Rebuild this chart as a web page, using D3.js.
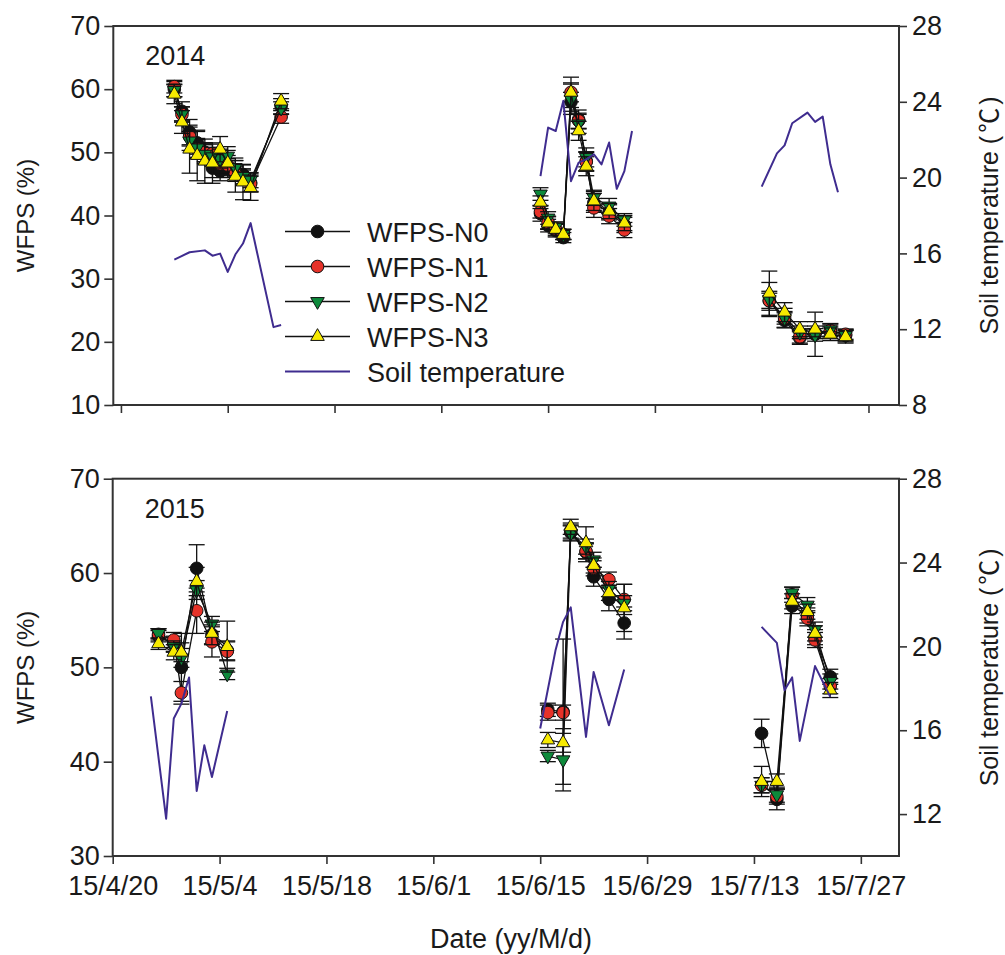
<!DOCTYPE html>
<html>
<head>
<meta charset="utf-8">
<script src="https://cdn.jsdelivr.net/npm/d3@7"></script>
<style>
  body { margin: 0; background: #fff; }
  svg text { font-family: "Liberation Sans", Arial, sans-serif; fill: #1a1a1a; }
</style>
</head>
<body>
<svg id="chart" width="1005" height="955"></svg>
<script>
// ---------- 2014 measurements ----------
const dates2014 = ["2014-04-27","2014-04-28","2014-04-29","2014-04-30","2014-05-01","2014-05-02","2014-05-03","2014-05-04","2014-05-05","2014-05-06","2014-05-07","2014-05-11",
  "2014-06-14","2014-06-15","2014-06-16","2014-06-17","2014-06-18","2014-06-19","2014-06-20","2014-06-21","2014-06-23","2014-06-25",
  "2014-07-14","2014-07-16","2014-07-18","2014-07-20","2014-07-22","2014-07-24"];
const n0_2014 = [60.0,56.5,53.2,51.5,50.0,47.5,47.0,47.5,47.2,46.5,45.2,57.3, 40.3,38.4,37.6,36.5,58.0,55.2,48.6,42.0,40.5,38.5, 26.5,23.4,20.6,21.2,21.5,21.0];
const n1_2014 = [60.4,56.0,52.5,50.5,50.0,49.8,48.2,48.0,46.6,46.0,45.0,55.6, 40.6,38.9,37.9,37.0,59.5,55.0,48.5,41.2,39.9,37.7, 26.5,23.8,20.8,21.5,21.8,21.2];
const n2_2014 = [59.8,56.0,51.8,50.7,49.7,49.3,49.0,49.4,47.6,46.2,45.6,57.0, 43.4,39.6,38.2,37.0,58.4,54.5,49.2,42.8,41.5,39.3, 26.7,23.8,21.5,21.1,21.9,21.0];
const n3_2014 = [59.2,54.8,50.5,49.5,48.6,48.3,50.5,48.3,46.2,45.3,44.4,58.1, 42.1,38.8,37.8,37.0,59.5,53.4,47.8,42.3,40.7,38.8, 27.7,24.7,22.0,22.0,21.2,20.8];
const n0_2014_se = [1.2,1.5,2.0,1.8,1.5,1.5,1.5,1.5,1.5,1.5,1.5,1.2, 1.2,1.0,1.0,0.8,1.5,1.5,1.5,1.5,1.2,1.2, 1.5,1.2,1.0,3.5,1.0,1.0];
const n1_2014_se = [1.0,1.2,1.5,1.5,1.5,1.5,1.5,1.5,1.2,1.2,1.2,1.0, 1.0,1.0,0.8,0.8,1.5,1.2,1.5,1.5,1.2,1.2, 1.2,1.0,1.0,1.0,1.0,0.8];
const n2_2014_se = [1.0,1.2,1.5,1.5,1.5,1.5,1.5,1.5,1.5,1.2,1.2,1.0, 1.0,1.0,0.8,0.8,2.4,1.5,1.5,1.2,1.2,1.0, 2.7,1.5,1.0,1.0,1.0,0.8];
const n3_2014_se = [1.5,1.8,3.8,4.0,3.5,3.2,2.0,2.0,2.5,2.8,2.0,1.2, 1.0,1.0,1.0,0.8,2.4,1.5,1.5,1.5,1.2,1.2, 3.5,1.5,1.2,1.2,1.0,1.0];
const tempDates2014 = ["2014-04-27","2014-04-29","2014-05-01","2014-05-02","2014-05-03","2014-05-04","2014-05-05","2014-05-06","2014-05-07","2014-05-10","2014-05-11",
  "2014-06-14","2014-06-15","2014-06-16","2014-06-17","2014-06-18","2014-06-19","2014-06-20","2014-06-21","2014-06-22","2014-06-23","2014-06-24","2014-06-25","2014-06-26",
  "2014-07-13","2014-07-15","2014-07-16","2014-07-17","2014-07-19","2014-07-20","2014-07-21","2014-07-22","2014-07-23"];
const temp2014 = [15.67,16.06,16.16,15.88,15.99,15.02,15.94,16.52,17.6,12.11,12.22,
  20.08,22.64,22.46,24.05,19.81,20.79,20.96,21.23,20.70,21.85,19.41,20.34,22.46,
  19.52,21.28,21.70,22.87,23.43,22.94,23.22,20.70,19.23];

// ---------- 2015 measurements ----------
const dates2015 = ["2015-04-26","2015-04-28","2015-04-29","2015-05-01","2015-05-03","2015-05-05",
  "2015-06-16","2015-06-18","2015-06-19","2015-06-21","2015-06-22","2015-06-24","2015-06-26",
  "2015-07-14","2015-07-16","2015-07-18","2015-07-20","2015-07-21","2015-07-23"];
const n0_2015 = [53.3,52.5,50.0,60.5,53.5,51.8, 45.5,45.3,64.3,62.2,59.6,57.2,54.7, 43.0,36.0,56.5,55.5,53.2,49.0];
const n1_2015 = [53.5,52.9,47.3,56.0,52.7,51.7, 45.2,45.2,64.5,62.3,60.5,59.3,57.2, 37.5,36.3,57.7,55.2,52.9,48.0];
const n2_2015 = [53.6,52.2,51.0,58.2,54.6,49.3, 40.6,40.2,64.2,62.8,61.4,58.3,56.8, 37.5,36.5,57.9,56.6,54.0,48.5];
const n3_2015 = [52.5,51.6,51.6,59.1,53.6,52.2, 42.3,42.0,64.9,63.2,60.8,57.9,56.3, 37.9,37.9,57.0,55.9,53.6,47.6];
const n0_2015_se = [0.6,0.8,3.6,2.5,1.0,1.0, 0.7,7.7,0.8,1.0,1.0,1.2,1.7, 1.5,1.1,0.8,0.8,0.8,0.8];
const n1_2015_se = [0.6,0.8,1.2,2.4,1.6,1.0, 0.8,0.8,0.8,0.8,0.8,0.8,1.6, 0.8,0.8,0.8,0.8,0.8,0.8];
const n2_2015_se = [0.5,0.6,1.0,1.0,0.8,0.6, 0.6,3.3,0.8,0.8,0.8,0.8,0.8, 0.8,0.8,0.6,0.8,0.8,0.8];
const n3_2015_se = [0.6,0.8,1.0,1.5,1.2,2.7, 0.8,1.0,0.8,1.7,0.8,0.8,2.5, 1.6,0.8,0.8,0.8,0.8,0.8];
const tempDates2015 = ["2015-04-25","2015-04-27","2015-04-28","2015-04-29","2015-04-30","2015-05-01","2015-05-02","2015-05-03","2015-05-05",
  "2015-06-15","2015-06-17","2015-06-18","2015-06-19","2015-06-21","2015-06-22","2015-06-24","2015-06-26",
  "2015-07-14","2015-07-16","2015-07-17","2015-07-18","2015-07-19","2015-07-21","2015-07-23"];
const temp2015 = [17.62,11.78,16.56,17.27,18.52,13.10,15.28,13.77,16.92,
  16.08,19.80,21.17,21.86,15.68,18.78,16.24,18.90,
  20.93,20.17,17.91,18.52,15.49,19.06,17.59];

// ---------- axis ticks and labels ----------
const xTicks2014 = ["2014-04-20","2014-05-04","2014-05-18","2014-06-01","2014-06-15","2014-06-29","2014-07-13","2014-07-27"];
const xTicks2015 = ["2015-04-20","2015-05-04","2015-05-18","2015-06-01","2015-06-15","2015-06-29","2015-07-13","2015-07-27"];
const yTicksTop = [10,20,30,40,50,60,70];
const yTicksBottom = [30,40,50,60,70];
const tTicksTop = [8,12,16,20,24,28];
const tTicksBottom = [12,16,20,24,28];
const seriesNames = ["WFPS-N0","WFPS-N1","WFPS-N2","WFPS-N3"];
const tempName = "Soil temperature";

// ---------- drawing ----------
const parse = d3.timeParse("%Y-%m-%d");
const svg = d3.select("#chart");
const FS = 27;
const TITLE_FS = 24;
const AXIS = "#333";
const TEMP_COLOR = "#3f2c8f";
const fills = ["#111111", "#e63229", "#0d8a3b", "#f7ea00"];
const shapes = ["circle", "circle", "down", "up"];

function symbolPath(shape) {
  if (shape === "circle") return d3.symbol(d3.symbolCircle, 125)();
  return d3.symbol(d3.symbolTriangle, 80)();
}
function drawMarker(g, shape, fill, cx, cy) {
  g.append("path")
    .attr("d", symbolPath(shape))
    .attr("transform", `translate(${cx},${cy})` + (shape === "down" ? " rotate(180)" : ""))
    .attr("fill", fill)
    .attr("stroke", "#111")
    .attr("stroke-width", 1);
}

function segments(dates, values) {
  const pts = dates.map((d, i) => ({ date: parse(d), v: values[i] }));
  const segs = [];
  let cur = [];
  pts.forEach((p, i) => {
    if (i > 0 && (p.date - pts[i - 1].date) > 10 * 864e5) { segs.push(cur); cur = []; }
    cur.push(p);
  });
  if (cur.length) segs.push(cur);
  return segs;
}

function panel(cfg) {
  const g = svg.append("g");
  const x = d3.scaleTime().domain([parse(cfg.xStart), parse(cfg.xEnd)]).range([cfg.left, cfg.right]);
  const y = d3.scaleLinear().domain(cfg.yDomain).range([cfg.bottom, cfg.top]);
  const y2 = d3.scaleLinear().domain(cfg.tDomain).range([cfg.bottom, cfg.top]);

  // frame
  g.append("rect")
    .attr("x", cfg.left).attr("y", cfg.top)
    .attr("width", cfg.right - cfg.left).attr("height", cfg.bottom - cfg.top)
    .attr("fill", "none").attr("stroke", AXIS).attr("stroke-width", 2);

  // axes
  const styleAxis = a => {
    a.select(".domain").remove();
    a.selectAll(".tick line").attr("stroke", AXIS).attr("stroke-width", 1.6);
    a.selectAll(".tick text").attr("font-size", FS).attr("fill", "#1a1a1a")
      .attr("font-family", '"Liberation Sans", Arial, sans-serif');
  };
  g.append("g").attr("transform", `translate(${cfg.left},0)`)
    .call(d3.axisLeft(y).tickValues(cfg.yTicks).tickSize(9).tickPadding(4).tickFormat(d3.format("d")))
    .call(styleAxis);
  g.append("g").attr("transform", `translate(${cfg.right},0)`)
    .call(d3.axisRight(y2).tickValues(cfg.tTicks).tickSize(8).tickPadding(5).tickFormat(d3.format("d")))
    .call(styleAxis);
  const xAxis = d3.axisBottom(x).tickValues(cfg.xTicks.map(parse)).tickSize(8).tickPadding(12)
    .tickFormat(cfg.showXLabels ? d3.timeFormat("%y/%-m/%-d") : () => "");
  g.append("g").attr("transform", `translate(0,${cfg.bottom})`).call(xAxis).call(styleAxis);

  // WFPS series: connecting lines, error bars, symbols
  const line = d3.line().x(p => x(p.date)).y(p => y(p.v));
  cfg.series.forEach((vals, si) => {
    const sg = g.append("g");
    segments(cfg.dates, vals).forEach(seg => {
      sg.append("path").attr("d", line(seg)).attr("fill", "none")
        .attr("stroke", "#111").attr("stroke-width", 1.3);
    });
    cfg.dates.forEach((d, i) => {
      const cx = x(parse(d));
      const v = vals[i], e = cfg.errors[si][i];
      const yLo = y(v - e), yHi = y(v + e);
      sg.append("line").attr("x1", cx).attr("x2", cx).attr("y1", yLo).attr("y2", yHi)
        .attr("stroke", "#111").attr("stroke-width", 1.3);
      [yLo, yHi].forEach(cy => sg.append("line").attr("x1", cx - 8).attr("x2", cx + 8)
        .attr("y1", cy).attr("y2", cy).attr("stroke", "#111").attr("stroke-width", 1.3));
    });
    cfg.dates.forEach((d, i) => drawMarker(sg, shapes[si], fills[si], x(parse(d)), y(vals[i])));
  });

  // soil temperature on the right axis
  const tline = d3.line().x(p => x(p.date)).y(p => y2(p.v));
  segments(cfg.tempDates, cfg.temp).forEach(seg => {
    g.append("path").attr("d", tline(seg)).attr("fill", "none")
      .attr("stroke", TEMP_COLOR).attr("stroke-width", 2).attr("stroke-linejoin", "round");
  });

  // year label
  g.append("text").attr("x", cfg.left + 32).attr("y", cfg.top + 39)
    .attr("font-size", FS).text(cfg.year);

  // axis titles
  const cy = (cfg.top + cfg.bottom) / 2;
  g.append("text").attr("transform", `translate(26,${cy}) rotate(-90)`)
    .attr("text-anchor", "middle").attr("dy", "0.35em").attr("font-size", TITLE_FS).text("WFPS (%)");
  const rt = g.append("text").attr("transform", `translate(989,${cy}) rotate(-90)`)
    .attr("text-anchor", "middle").attr("dy", "0.35em").attr("font-size", TITLE_FS + 1);
  rt.append("tspan").text("Soil temperature (");
  rt.append("tspan").attr("dx", 3).attr("font-family", '"Noto Sans CJK SC", "DejaVu Sans", sans-serif').text("℃");
  rt.append("tspan").attr("dx", 3).text(")");

  return { g, x, y };
}

const upperPanel = panel({
  xStart: "2014-04-19", xEnd: "2014-07-31", left: 113.3, right: 899, top: 26, bottom: 405,
  yDomain: [10, 70], tDomain: [8, 28], yTicks: yTicksTop, tTicks: tTicksTop, xTicks: xTicks2014,
  showXLabels: false, dates: dates2014,
  series: [n0_2014, n1_2014, n2_2014, n3_2014],
  errors: [n0_2014_se, n1_2014_se, n2_2014_se, n3_2014_se],
  tempDates: tempDates2014, temp: temp2014, year: "2014"
});

panel({
  xStart: "2015-04-20", xEnd: "2015-08-01", left: 112.7, right: 899, top: 478.7, bottom: 856,
  yDomain: [30, 70], tDomain: [10, 28], yTicks: yTicksBottom, tTicks: tTicksBottom, xTicks: xTicks2015,
  showXLabels: true, dates: dates2015,
  series: [n0_2015, n1_2015, n2_2015, n3_2015],
  errors: [n0_2015_se, n1_2015_se, n2_2015_se, n3_2015_se],
  tempDates: tempDates2015, temp: temp2015, year: "2015"
});

// x-axis title
svg.append("text").attr("x", 511).attr("y", 948).attr("text-anchor", "middle")
  .attr("font-size", FS).text("Date (yy/M/d)");

// legend in the upper panel
const legend = upperPanel.g.append("g");
const rows = [...seriesNames, tempName];
rows.forEach((name, i) => {
  const ry = 231.5 + i * 35;
  const row = legend.append("g");
  if (i < 4) {
    row.append("line").attr("x1", 285).attr("x2", 350).attr("y1", ry).attr("y2", ry)
      .attr("stroke", "#111").attr("stroke-width", 1.3);
    drawMarker(row, shapes[i], fills[i], 317.5, ry);
  } else {
    row.append("line").attr("x1", 285).attr("x2", 350).attr("y1", ry).attr("y2", ry)
      .attr("stroke", TEMP_COLOR).attr("stroke-width", 2);
  }
  row.append("text").attr("x", 367).attr("y", ry + 10).attr("font-size", FS).text(name);
});
</script>
</body>
</html>
